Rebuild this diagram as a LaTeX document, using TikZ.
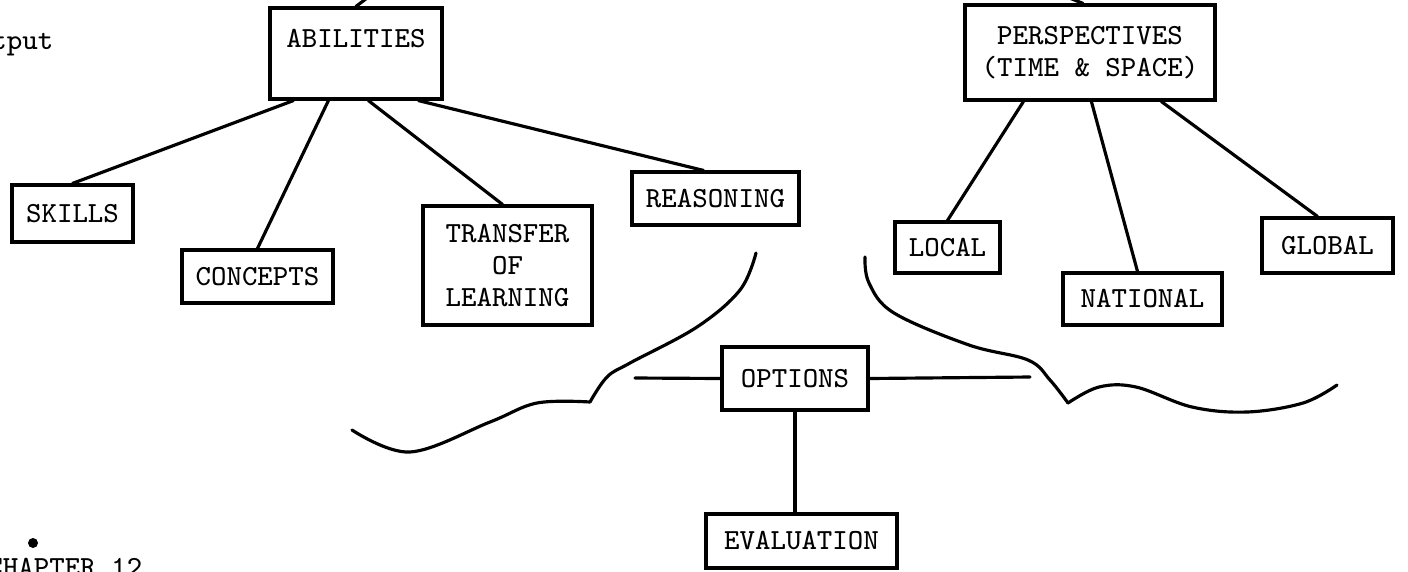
\documentclass[tikz,border=0pt]{standalone}

\begin{document}
\begin{tikzpicture}[word/.style={font=\ttfamily\fontsize{8.3}{9.1}\selectfont},
    box/.style={word,draw,line width=.9pt,inner sep=0pt,align=center},
    link/.style={line width=.9pt,line cap=round}]
            \useasboundingbox (0,0) rectangle (14.08,-5.71);
            % the two heads
            \draw (3.56,-.535) node[box,minimum width=1.72cm,
             inner ysep=.21cm,text height=.18cm,text depth=.31cm] (A) {ABILITIES};
            \draw (10.90,-.525) node[box,minimum width=2.50cm,
             minimum height=.95cm] (P) {PERSPECTIVES\\(TIME \& SPACE)};
            % under abilities
            \draw (.725,-2.135) node[box,minimum width=1.21cm,
             minimum height=.57cm] (S) {SKILLS};
            \draw (2.575,-2.765) node[box,minimum width=1.51cm,
             minimum height=.53cm] (C) {CONCEPTS};
            \draw (5.075,-2.655) node[box,minimum width=1.69cm,
             minimum height=1.19cm] (T) {TRANSFER\\OF\\LEARNING};
            \draw (7.155,-1.985) node[box,minimum width=1.67cm,
             minimum height=.53cm] (R) {REASONING};
            % under perspectives
            \draw (9.475,-2.475) node[box,minimum width=1.05cm,
             minimum height=.51cm] (L) {LOCAL};
            \draw (11.425,-2.99) node[box,minimum width=1.59cm,
             minimum height=.52cm] (N) {NATIONAL};
            \draw (13.275,-2.455) node[box,minimum width=1.31cm,
             minimum height=.55cm] (G) {GLOBAL};
            % bottom
            \draw (7.95,-3.785) node[box,minimum width=1.46cm,
             minimum height=.63cm] (O) {OPTIONS};
            \draw (8.015,-5.41) node[box,minimum width=1.91cm,
             minimum height=.54cm] (E) {EVALUATION};
            % page text, cut at the edge as on the page
            \draw (.54,-.49) node[word,inner sep=0pt,anchor=base east] (tp) {tput};
            \draw (1.43,-5.76) node[word,inner sep=0pt,anchor=base east] (ch) {CHAPTER 12};
            \fill (.33,-5.43) circle (.05);
            % loose ends
            \coordinate (a0) at (3.71,.05);
            \coordinate (p0) at (10.62,.05);
            \coordinate (o1) at (6.35,-3.78);
            \coordinate (o2) at (10.30,-3.77);
            \draw[link] (A.north) -- (a0);
            \draw[link] ([xshift=.25cm]A.south west) -- (S.north);
            \draw[link] ([xshift=.60cm]A.south west) -- (C.north);
            \draw[link] ([xshift=1.00cm]A.south west) -- ([xshift=-.05cm]T.north);
            \draw[link] ([xshift=1.50cm]A.south west) -- ([xshift=-.12cm]R.north);
            \draw[link] ([xshift=-.07cm]P.north) -- (p0);
            \draw[link] ([xshift=.60cm]P.south west) -- (L.north);
            \draw[link] ([xshift=1.28cm]P.south west) -- ([xshift=-.05cm]N.north);
            \draw[link] ([xshift=1.98cm]P.south west) -- ([xshift=-.1cm]G.north);
            \draw[link] (o1) -- (O.west);
            \draw[link] (O.east) -- (o2);
            \draw[link] (O.south) -- (O.south |- E.north);
            % the two braces
            \draw[link] plot[smooth,tension=.6] coordinates {(3.52,-4.30) (4.10,-4.52)
             (4.90,-4.22) (5.37,-4.03) (5.90,-4.02)};
            \draw[link] plot[smooth,tension=.6] coordinates {(5.90,-4.02) (6.07,-3.77)
             (6.30,-3.63) (6.97,-3.27) (7.40,-2.90) (7.56,-2.53)};
            \draw[link] plot[smooth,tension=.6] coordinates {(8.65,-2.57) (8.69,-2.83)
             (8.94,-3.13) (9.69,-3.45) (10.28,-3.60) (10.50,-3.80) (10.68,-4.03)};
            \draw[link] plot[smooth,tension=.6] coordinates {(10.68,-4.03) (10.99,-3.87)
             (11.36,-3.87) (11.92,-4.07) (12.47,-4.12) (13.03,-4.03) (13.37,-3.85)};
        \end{tikzpicture}
\end{document}
